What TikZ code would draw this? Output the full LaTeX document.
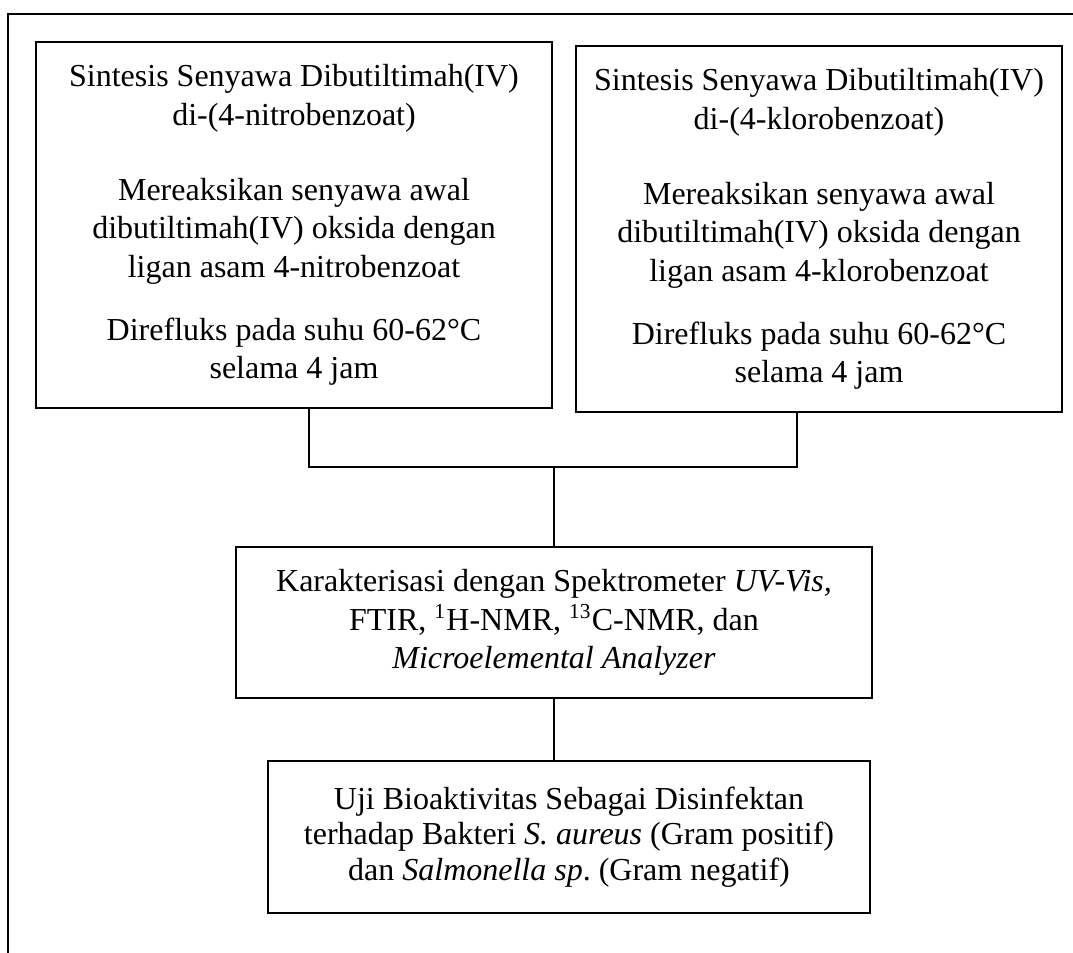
\documentclass[tikz,border=0pt]{standalone}
\usepackage{fontspec}
\setmainfont{Liberation Serif}
\usepackage{tikz}
\frenchspacing
\begin{document}
\begin{tikzpicture}[x=0.375pt,y=-0.375pt,
  kotak/.style={draw,line width=0.45pt,align=center,inner sep=0pt,font=\fontsize{12}{14.4}\selectfont},
  garis/.style={line width=0.5pt}]
\useasboundingbox (0,0) rectangle (1073,952);
\clip (0,0) rectangle (1073,952);
\draw [line width=0.6pt] (8,14) rectangle (1100,1000);
\node[kotak,minimum width=193.5pt,minimum height=137.25pt] (nitro) at (294,225) {Sintesis Senyawa Dibutiltimah(IV)\\ di-(4-nitrobenzoat)\\[13.7pt] Mereaksikan senyawa awal\\ dibutiltimah(IV) oksida dengan\\ ligan asam 4-nitrobenzoat\\[9.2pt] Direfluks pada suhu 60-62°C\\ selama 4 jam};
\node[kotak,minimum width=182.25pt,minimum height=137.25pt] (kloro) at (819,229) {Sintesis Senyawa Dibutiltimah(IV)\\ di-(4-klorobenzoat)\\[13.7pt] Mereaksikan senyawa awal\\ dibutiltimah(IV) oksida dengan\\ ligan asam 4-klorobenzoat\\[9.2pt] Direfluks pada suhu 60-62°C\\ selama 4 jam};
\node[kotak,minimum width=238.5pt,minimum height=56.6pt] (karak) at (554,622.5) {Karakterisasi dengan Spektrometer \textit{UV-Vis,}\\ FTIR, \textsuperscript{1}H-NMR, \textsuperscript{13}C-NMR, dan\\ \textit{Microelemental Analyzer}};
\node[kotak,font=\fontsize{12}{13.3}\selectfont,minimum width=225.75pt,minimum height=57pt] (uji) at (569,837) {Uji Bioaktivitas Sebagai Disinfektan\\ terhadap Bakteri \textit{S. aureus} (Gram positif)\\ dan \textit{Salmonella sp}. (Gram negatif)};
\coordinate (kiri) at (309,467);
\coordinate (kanan) at (797,467);
\coordinate (tengah) at (554,467);
\draw [garis] (nitro.south -| kiri) -- (kiri) -- (kanan) -- (kloro.south -| kanan);
\draw [garis] (tengah) -- (karak.north);
\draw [garis] (karak.south) -- (karak.south |- uji.north);
\end{tikzpicture}
\end{document}
